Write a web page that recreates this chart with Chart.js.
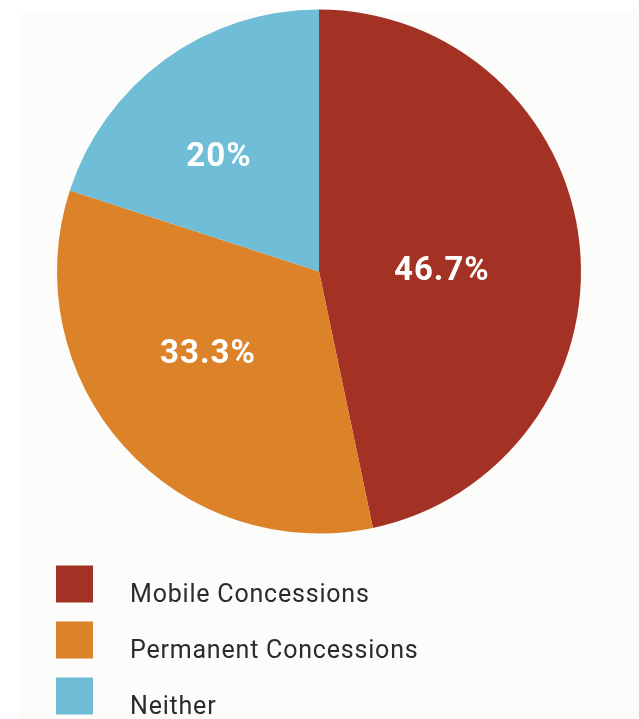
<!DOCTYPE html>
<html>
<head>
<meta charset="utf-8">
<script src="https://cdn.jsdelivr.net/npm/chart.js@4"></script>
<style>
  html, body { margin: 0; padding: 0; background: #ffffff; }
  #wrap { position: relative; width: 639px; height: 719px; }
</style>
</head>
<body>
<div id="wrap"><canvas id="c" width="639" height="719"></canvas></div>
<script>
const categories = ["Mobile Concessions", "Permanent Concessions", "Neither"];
const shares = [46.7, 33.3, 20];
const valueLabels = ["46.7%", "33.3%", "20%"];
const sliceColors = ["#A33224", "#DC8229", "#70BDD8"];

// label anchor as fraction of radius (x right, y down) from pie centre
const labelAnchors = [[0.469, 0.0], [-0.424, 0.317], [-0.382, -0.435]];

const pageBg = {
  id: 'pageBg',
  beforeDraw(chart) {
    const ctx = chart.ctx;
    ctx.save();
    ctx.fillStyle = '#ffffff';
    ctx.fillRect(0, 0, chart.width, chart.height);
    ctx.fillStyle = '#fcfcfa';
    ctx.fillRect(18, 10, chart.width - 18, chart.height - 10);
    ctx.restore();
  }
};

const sliceLabels = {
  id: 'sliceLabels',
  afterDatasetsDraw(chart) {
    const ctx = chart.ctx;
    const meta = chart.getDatasetMeta(0);
    ctx.save();
    ctx.fillStyle = '#ffffff';
    ctx.font = 'bold 33px Roboto';
    ctx.letterSpacing = '1px';
    ctx.textAlign = 'center';
    ctx.textBaseline = 'middle';
    meta.data.forEach((arc, i) => {
      const r = arc.outerRadius;
      const x = arc.x + labelAnchors[i][0] * r;
      const y = arc.y + labelAnchors[i][1] * r;
      ctx.fillText(valueLabels[i], x, y);
    });
    ctx.restore();
  }
};

const customLegend = {
  id: 'customLegend',
  afterDraw(chart) {
    const ctx = chart.ctx;
    const top = chart.chartArea.bottom;
    ctx.save();
    categories.forEach((name, i) => {
      const y0 = top + 32 + i * 56;
      ctx.fillStyle = sliceColors[i];
      ctx.fillRect(56, y0, 37, 37);
      ctx.fillStyle = '#2b2b2b';
      ctx.font = '400 25px Roboto';
      ctx.letterSpacing = '0.8px';
      ctx.textAlign = 'left';
      ctx.textBaseline = 'alphabetic';
      ctx.fillText(name, 130, y0 + 36);
    });
    ctx.restore();
  }
};

new Chart(document.getElementById('c'), {
  type: 'pie',
  data: {
    labels: categories,
    datasets: [{
      data: shares,
      backgroundColor: sliceColors,
      borderWidth: 0
    }]
  },
  options: {
    responsive: false,
    animation: false,
    layout: { padding: { top: 9.5, bottom: 185.5, left: 57, right: 58 } },
    plugins: {
      legend: { display: false },
      tooltip: { enabled: false }
    }
  },
  plugins: [pageBg, sliceLabels, customLegend]
});
</script>
</body>
</html>
